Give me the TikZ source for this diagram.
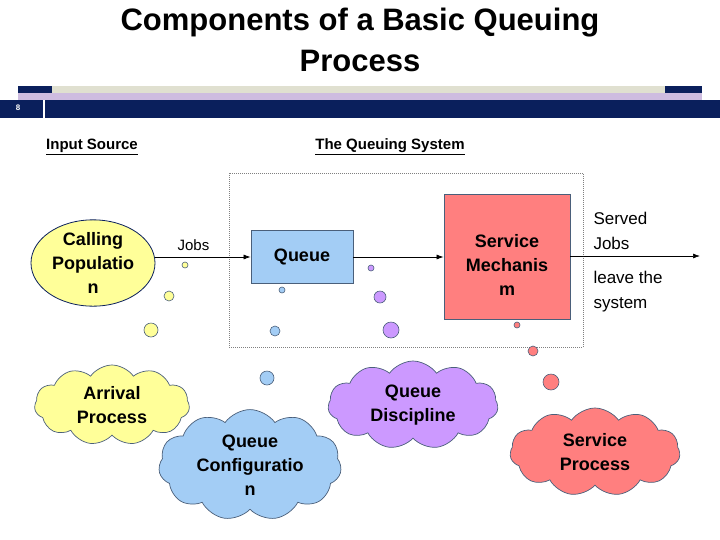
\documentclass[tikz,border=0pt]{standalone}
\usepackage{fontspec}
\setmainfont{Liberation Sans}
\usetikzlibrary{shapes.symbols,shapes.geometric,arrows.meta}
\definecolor{navy}{HTML}{0A1F5C}
\definecolor{ylw}{HTML}{FFFF99}
\definecolor{blu}{HTML}{A3CDF5}
\definecolor{pur}{HTML}{CC99FF}
\definecolor{rd}{HTML}{FF7F7F}
\definecolor{edge}{HTML}{4A5F7A}
\begin{document}
\begin{tikzpicture}[x=1pt,y=-1pt,
  lab/.style={font=\bfseries\fontsize{18}{24}\selectfont,align=center,text=black},
  bub/.style={circle,draw=edge,line width=0.6pt,inner sep=0pt},
  cl/.style={cloud,cloud puffs=11,cloud puff arc=110,aspect=2,draw=edge,line width=0.7pt,lab,inner sep=1pt},
  arr/.style={-{Latex[length=7pt,width=5pt]},line width=0.7pt}]
\useasboundingbox (0,0) rectangle (720,539);
\node[font=\bfseries\fontsize{31}{41}\selectfont,align=center] (title) at (360,40) {Components of a Basic Queuing\\Process};
\fill[navy] (18,86) rectangle (52,93);
\fill[ylw!40!gray!40] (52,86) rectangle (665,93);
\fill[navy] (665,86) rectangle (702,93);
\fill[pur!60!gray!60] (18,93) rectangle (702,100);
\fill[navy] (0,100) rectangle (720,118);
\fill[white] (43,100) rectangle (45,118);
\node[text=white,font=\bfseries\fontsize{8}{9}\selectfont] (pg) at (18,108) {8};
\node[font=\bfseries\fontsize{15}{17}\selectfont] (in) at (92,147) {\underline{Input Source}};
\node[font=\bfseries\fontsize{15}{17}\selectfont] (qs) at (390,147) {\underline{The Queuing System}};
\draw[gray,densely dotted,line width=1pt] (229,173) rectangle (583,347);
\node[ellipse,draw=navy,fill=ylw,line width=0.8pt,minimum width=124pt,minimum height=86pt,lab,inner sep=0pt] (pop) at (93,263) {Calling\\Populatio\\n};
\node[draw=edge,fill=rd,line width=0.8pt,minimum width=126pt,minimum height=125pt] (sm) at (507,257) {};
\node[lab] (smt) at (507,265) {Service\\Mechanis\\m};
\node[draw=edge,fill=blu,line width=0.8pt,minimum width=102pt,minimum height=53pt,lab] (q) at (302,257) {Queue};
\coordinate (out) at (700,256);
\draw[arr] (pop.east|-q) -- (q.west) node[pos=0.4,above=3pt,font=\fontsize{15}{17}\selectfont] (jobs) {Jobs};
\draw[arr] (q.east) -- (sm.west|-q);
\draw[arr] (sm.east|-out) -- (out);
\node[anchor=west,align=left,font=\fontsize{17}{25}\selectfont] (served) at (590,231) {Served\\Jobs};
\node[anchor=west,align=left,font=\fontsize{17}{25}\selectfont] (leave) at (590,292) {leave the\\system};
\foreach \x/\y/\r/\c [count=\i] in {185/265/3/ylw,169/296/5/ylw,151/330/7/ylw,282/290/3/blu,275/331/5/blu,267/378/7/blu,371/268/3/pur,380/297/6/pur,391/330/8/pur,517/325/3/rd,533/351/5/rd,551/382/8/rd}
  \node[bub,fill=\c,minimum size=2*\r pt] (b\i) at (\x,\y) {};
\node[cl,fill=ylw,minimum width=155pt,minimum height=80pt] (ap) at (112,405) {Arrival\\Process};
\node[cl,fill=pur,minimum width=170pt,minimum height=88pt] (qd) at (413,405) {Queue\\Discipline};
\node[cl,fill=blu,minimum width=175pt,minimum height=92pt] (qc) at (250,465) {Queue\\Configuratio\\n};
\node[cl,fill=rd,minimum width=170pt,minimum height=88pt] (sp) at (595,452) {Service\\Process};
\end{tikzpicture}
\end{document}
